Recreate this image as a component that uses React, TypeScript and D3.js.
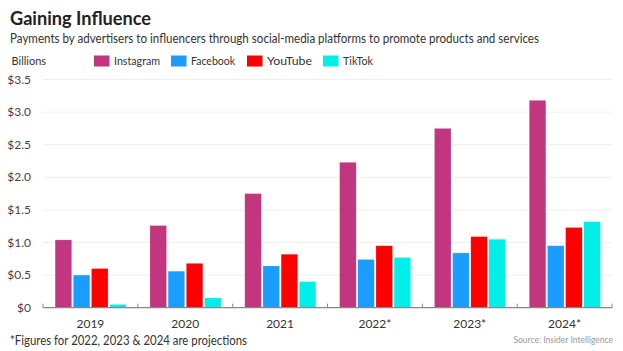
import * as d3 from "d3";

const years = ["2019", "2020", "2021", "2022*", "2023*", "2024*"];
const platforms = ["Instagram", "Facebook", "YouTube", "TikTok"];
const colors = ["#C2357F", "#199EFF", "#FF0000", "#00F0E9"];
const instagram = [1.04, 1.26, 1.75, 2.23, 2.75, 3.18];
const facebook = [0.5, 0.56, 0.64, 0.74, 0.84, 0.95];
const youtube = [0.6, 0.68, 0.82, 0.95, 1.09, 1.23];
const tiktok = [0.05, 0.15, 0.4, 0.77, 1.05, 1.32];
const yTicks = [0, 0.5, 1, 1.5, 2, 2.5, 3, 3.5];

const series = [instagram, facebook, youtube, tiktok];
const FONT = "Lato, 'Noto Sans', sans-serif";

export default function App() {
  const W = 623, H = 351;
  const x0 = 43, x1 = 612, yTop = 79.5, yBot = 307.7;

  const x = d3.scaleBand<string>().domain(years).range([x0, x1]).paddingInner(0).paddingOuter(0);
  const xi = d3.scaleBand<string>().domain(platforms).range([10.5, x.bandwidth() - 10]).padding(0.09);
  const y = d3.scaleLinear().domain([0, 3.5]).range([yBot, yTop]);

  const legendX = [94, 171, 247, 323];
  const legendW = [46, 44, 45, 30];
  const fmt = (v: number) => (v === 0 ? "$0" : `$${v.toFixed(1)}`);

  return (
    <div style={{ position: "fixed", left: 0, top: 0, background: "#fff" }}>
      <svg width={W} height={H} style={{ display: "block", fontFamily: FONT }}>
        <rect width={W} height={H} fill="#fff" />
        <text x={10} y={25} fontSize={18} fontWeight={700} fill="#222" textLength={141} lengthAdjust="spacingAndGlyphs">
          Gaining Influence
        </text>
        <text x={10} y={42.5} fontSize={12.5} fill="#333" textLength={529} lengthAdjust="spacingAndGlyphs">
          Payments by advertisers to influencers through social-media platforms to promote products and services
        </text>
        <text x={11.5} y={65} fontSize={11} fill="#333">Billions</text>
        {platforms.map((p, i) => (
          <g key={p}>
            <rect x={legendX[i]} y={55.5} width={15.5} height={11} fill={colors[i]} />
            <text x={legendX[i] + 20} y={65} fontSize={11.5} fill="#333" textLength={legendW[i]} lengthAdjust="spacingAndGlyphs">{p}</text>
          </g>
        ))}

        {yTicks.map((t) => (
          <g key={t}>
            {t > 0 && <line x1={x0} x2={x1} y1={y(t)} y2={y(t)} stroke="#EFEFEF" strokeWidth={1} />}
            <text x={31} y={y(t) + 4} fontSize={12} textAnchor="end" fill="#444">{fmt(t)}</text>
          </g>
        ))}

        {years.map((yr, gi) => (
          <g key={yr} transform={`translate(${x(yr)},0)`}>
            {platforms.map((p, si) => {
              const v = series[si][gi];
              return (
                <rect key={p} x={xi(p)} y={y(v)} width={xi.bandwidth()} height={yBot - y(v)}
                  fill={colors[si]} stroke="#fff" strokeOpacity={0.35} strokeWidth={0.5} />
              );
            })}
            <text x={x.bandwidth() / 2} y={327.5} fontSize={12} textAnchor="middle" fill="#333">{yr}</text>
          </g>
        ))}

        <line x1={x0} x2={x1} y1={yBot} y2={yBot} stroke="#888" strokeWidth={1.2} />
        {[...years.map((yr) => x(yr)!), x1].map((tx, i) => (
          <line key={i} x1={tx} x2={tx} y1={yBot} y2={yBot - 4} stroke="#888" strokeWidth={1} />
        ))}

        <text x={10} y={345} fontSize={12.5} fill="#333" textLength={237} lengthAdjust="spacingAndGlyphs">
          *Figures for 2022, 2023 &amp; 2024 are projections
        </text>
        <text x={613} y={343} fontSize={8.5} textAnchor="end" fill="#999">Source: Insider Intelligence</text>
      </svg>
    </div>
  );
}
